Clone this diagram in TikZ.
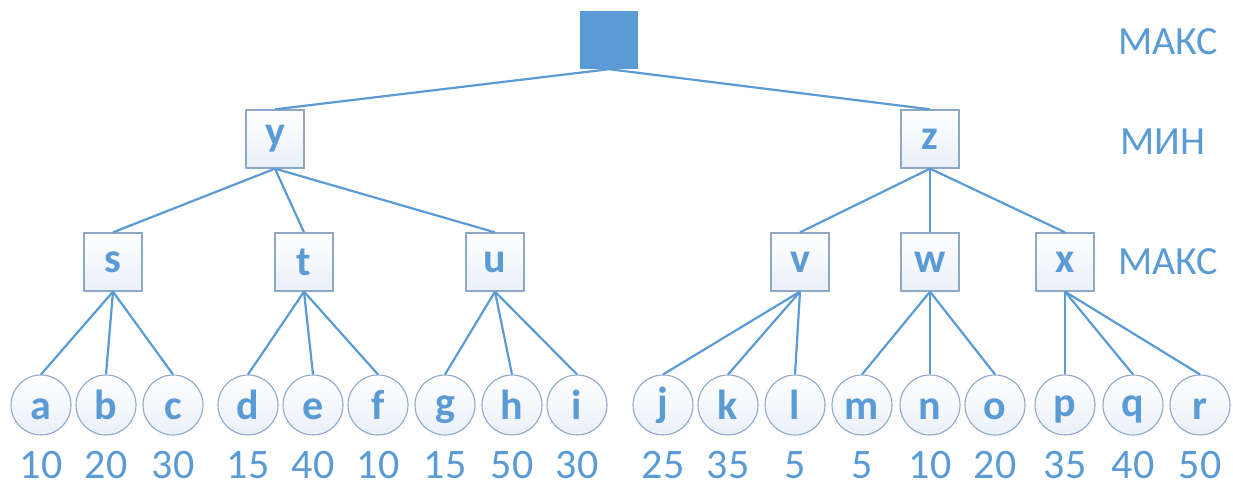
\documentclass[tikz,border=0pt]{standalone}
\usepackage{fontspec}
\setmainfont{Carlito}
\definecolor{ob}{HTML}{5B9BD5}
\definecolor{bd}{HTML}{8FA8C8}
\definecolor{lf}{HTML}{EAF0F8}
\begin{document}
\begin{tikzpicture}[x=1pt,y=-1pt,
  sq/.style={draw=bd,line width=1.3pt,minimum size=58pt,inner sep=0pt,top color=white,bottom color=lf,font=\fontsize{42}{42}\selectfont\bfseries,text=ob},
  root/.style={fill=ob,minimum size=58pt,inner sep=0pt},
  lf/.style={circle,draw=bd,line width=1.1pt,minimum size=60pt,inner sep=0pt,top color=white,bottom color=lf,font=\fontsize{42}{42}\selectfont\bfseries,text=ob},
  num/.style={font=\fontsize{42}{42}\selectfont,text=ob},
  lvl/.style={font=\fontsize{40}{40}\selectfont,text=ob},
  ed/.style={draw=ob,line width=2.2pt}]
\useasboundingbox (0,0) rectangle (1233,489);
\node[root] (R) at (609,40) {};
\node[sq] (y) at (275,139) {y};
\node[sq] (z) at (930,139) {z};
\foreach \n/\x in {s/113,t/304,u/495,v/800,w/930,x/1065}
  \node[sq] (\n) at (\x,262) {\n};
\foreach \n/\x/\v in {a/41/10,b/106/20,c/173/30,d/248/15,e/313/40,f/378/10,g/445/15,h/512/50,i/577/30,j/663/25,k/728/35,l/795/5,m/862/5,n/930/10,o/995/20,p/1065/35,q/1133/40,r/1200/50}{
  \node[lf] (\n) at (\x,405) {\n\vphantom{b}};
  \node[num] (v\n) at (\x,465) {\v};
}
\node[lvl] (L1) at (1168,42) {МАКС};
\node[lvl] (L2) at (1163,142) {МИН};
\node[lvl] (L3) at (1168,262) {МАКС};
\draw[ed] (R.south) -- (y.north);
\draw[ed] (R.south) -- (z.north);
\foreach \c in {s,t,u} \draw[ed] (y.south) -- (\c.north);
\foreach \c in {v,w,x} \draw[ed] (z.south) -- (\c.north);
\foreach \p/\cs in {s/{a,b,c},t/{d,e,f},u/{g,h,i},v/{j,k,l},w/{m,n,o},x/{p,q,r}}
  \foreach \c in \cs \draw[ed] (\p.south) -- (\c.north);
\end{tikzpicture}
\end{document}
